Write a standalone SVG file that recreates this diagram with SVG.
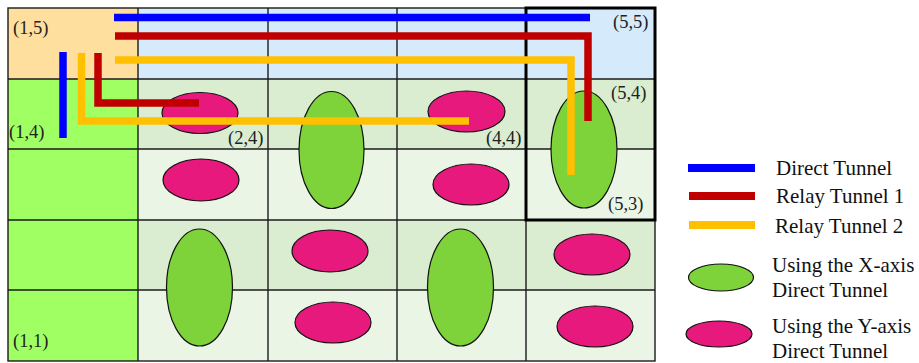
<svg xmlns="http://www.w3.org/2000/svg" width="919" height="363" viewBox="0 0 919 363">
<style>
.grid{stroke:#1a1a1a;stroke-width:1.4;}
.c15{fill:#FEDF9E;}
.blue{fill:#D5EAFB;}
.col1{fill:#A0FF62;}
.dk{fill:#DAEDD0;}
.lt{fill:#EBF5E6;}
.gx{fill:#7ED23A;stroke:#111;stroke-width:1.2;}
.py{fill:#E8197C;stroke:#111;stroke-width:1.2;}
.lbl{font-family:"Liberation Serif","Times New Roman",serif;font-size:18.5px;fill:#222;}
.leg{font-family:"Liberation Serif","Times New Roman",serif;font-size:21px;fill:#111;}
.t{fill:none;stroke-width:7.5;stroke-linejoin:miter;stroke-linecap:butt;}
.tb{stroke:#0000FF;}
.tr{stroke:#C00000;}
.ty{stroke:#FFC000;}
</style>
<rect width="919" height="363" fill="#fff"/>
<g id="cells">
<rect class="c15" x="8" y="8" width="130" height="71"/>
<rect class="blue" x="138" y="8" width="517" height="71"/>
<rect class="col1" x="8" y="79" width="130" height="282"/>
<rect class="dk" x="138" y="79" width="517" height="70"/>
<rect class="lt" x="138" y="149" width="517" height="71"/>
<rect class="dk" x="138" y="220" width="517" height="70"/>
<rect class="lt" x="138" y="290" width="517" height="71"/>
</g>
<g id="grid" class="grid" fill="none">
<rect x="8" y="8" width="647" height="353"/>
<line x1="138" y1="8" x2="138" y2="361"/>
<line x1="268" y1="8" x2="268" y2="361"/>
<line x1="397" y1="8" x2="397" y2="361"/>
<line x1="526" y1="8" x2="526" y2="361"/>
<line x1="8" y1="79" x2="655" y2="79"/>
<line x1="8" y1="149" x2="655" y2="149"/>
<line x1="8" y1="220" x2="655" y2="220"/>
<line x1="8" y1="290" x2="655" y2="290"/>
</g>
<g id="node-p24"><ellipse class="py" cx="200" cy="113" rx="38" ry="20.5"/></g>
<g id="node-g34"><ellipse class="gx" cx="331.5" cy="150" rx="32.5" ry="58.5"/></g>
<g id="node-p44"><ellipse class="py" cx="466.5" cy="111.5" rx="38.5" ry="20.5"/></g>
<g id="node-g54"><ellipse class="gx" cx="584" cy="149.5" rx="33" ry="58.5"/></g>
<g id="node-p23"><ellipse class="py" cx="201" cy="180" rx="38" ry="21"/></g>
<g id="node-p43"><ellipse class="py" cx="471" cy="184.5" rx="38" ry="20.5"/></g>
<g id="node-g22"><ellipse class="gx" cx="199.5" cy="287.5" rx="33" ry="58.5"/></g>
<g id="node-p32"><ellipse class="py" cx="330" cy="251" rx="38" ry="21"/></g>
<g id="node-p31"><ellipse class="py" cx="333" cy="322.5" rx="38" ry="20.5"/></g>
<g id="node-g42"><ellipse class="gx" cx="460.5" cy="287.5" rx="33" ry="58.5"/></g>
<g id="node-p52"><ellipse class="py" cx="592" cy="254.5" rx="38" ry="20.5"/></g>
<g id="node-p51"><ellipse class="py" cx="595" cy="326.5" rx="38" ry="20.5"/></g>
<g id="region"><rect x="526" y="8" width="129" height="212" fill="none" stroke="#000" stroke-width="3"/></g>
<g id="connectors">
<path class="t tb" d="M114 17.5 H590"/>
<path class="t tb" d="M63 52 V138"/>
<path class="t tr" d="M115 36 H588 V121"/>
<path class="t tr" d="M98 53 V103 H199"/>
<path class="t ty" d="M115 60 H571 V175"/>
<path class="t ty" d="M81.5 53 V121 H469"/>
</g>
<g id="labels">
<text class="lbl" x="13" y="34">(1,5)</text>
<text class="lbl" x="9" y="138">(1,4)</text>
<text class="lbl" x="228" y="144">(2,4)</text>
<text class="lbl" x="486" y="144">(4,4)</text>
<text class="lbl" x="613" y="28">(5,5)</text>
<text class="lbl" x="611" y="99">(5,4)</text>
<text class="lbl" x="608" y="210">(5,3)</text>
<text class="lbl" x="13" y="347">(1,1)</text>
</g>
<g id="legend">
<line x1="688" y1="168" x2="755" y2="168" stroke="#0000FF" stroke-width="8"/>
<line x1="689" y1="196" x2="755" y2="196" stroke="#C00000" stroke-width="8"/>
<line x1="689" y1="225" x2="755" y2="225" stroke="#FFC000" stroke-width="8"/>
<text class="leg" x="776" y="175">Direct Tunnel</text>
<text class="leg" x="776" y="203">Relay Tunnel 1</text>
<text class="leg" x="775" y="233">Relay Tunnel 2</text>
<ellipse class="gx" cx="721" cy="277.5" rx="32.5" ry="13.5"/>
<text class="leg" x="772" y="272">Using the X-axis</text>
<text class="leg" x="772" y="297">Direct Tunnel</text>
<ellipse class="py" cx="719" cy="334" rx="33" ry="13"/>
<text class="leg" x="772" y="333">Using the Y-axis</text>
<text class="leg" x="772" y="358">Direct Tunnel</text>
</g>
</svg>
